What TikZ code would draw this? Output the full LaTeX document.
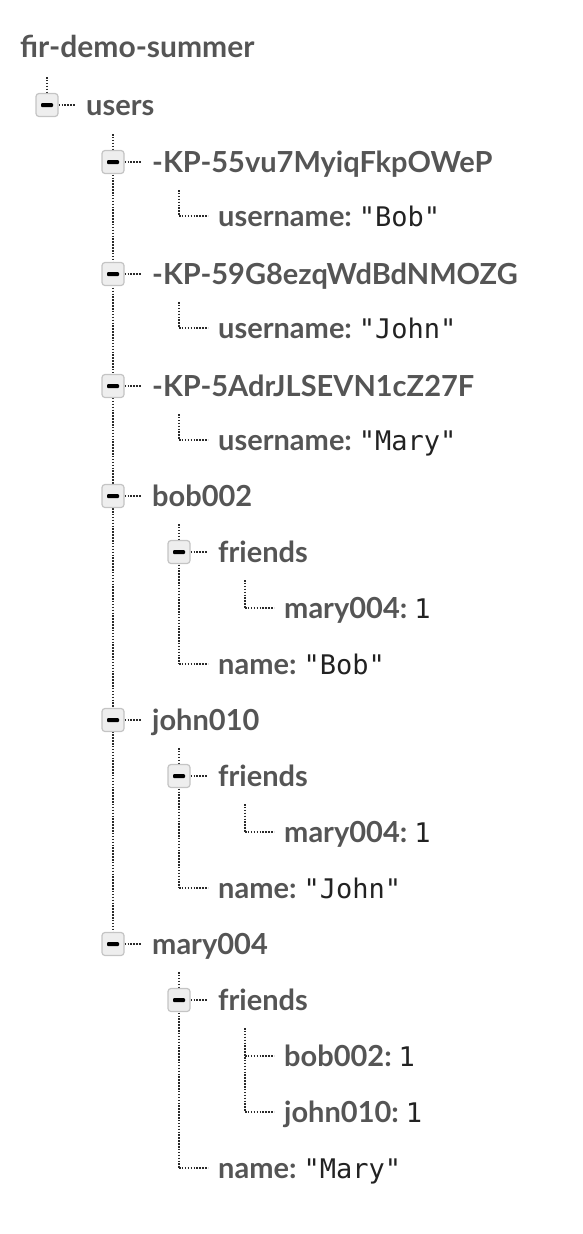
\documentclass[tikz,border=0pt]{standalone}
\usepackage{fontspec}
\usetikzlibrary{backgrounds}
\newfontfamily\keyfont{Lato}
\newfontfamily\valfont{DejaVu Sans Mono}
\definecolor{keygray}{HTML}{555555}
\definecolor{valblack}{HTML}{222222}
\definecolor{dotgray}{HTML}{2A2A2A}
\definecolor{boxfill}{HTML}{EEEEEE}
\definecolor{boxline}{HTML}{C4C4C4}

\tikzset{
  dots/.style={draw=dotgray, line width=1.5pt, dash pattern=on 1.5pt off 1.4pt},
  toggle/.style={draw=boxline, fill=boxfill, rounded corners=3pt, line width=1.2pt,
    minimum width=22pt, minimum height=23pt, inner sep=0pt,
    path picture={\fill[black, rounded corners=1pt]
      ([xshift=-6pt,yshift=-2pt]path picture bounding box.center) rectangle
      ([xshift=6pt,yshift=2pt]path picture bounding box.center);}},
  key/.style={anchor=base west, inner sep=0pt, text=keygray,
    font=\keyfont\bfseries\fontsize{29}{32}\selectfont},
}
\newcommand{\val}[1]{{\valfont\mdseries\color{valblack}\fontsize{27}{30}\selectfont #1}}
% box, label and the short dotted stub
\newcommand{\branch}[4]{%
  \node[toggle] (#1) at (#2,#3) {};
  \node[key] (#1-t) at ({#2+39},{#3+10}) {#4};
  \draw[dots, shorten >=11pt] (#1.east) -- (#1.east -| #1-t.west);
}
% leaf: key and value
\newcommand{\leaf}[5]{%
  \coordinate (#1-c) at (#2,#3);
  \node[key] (#1) at ({#2+39},{#3+10}) {#4:\hspace{7pt}\val{#5}};
  \draw[dots, shorten >=10pt] (#1-c) -- (#1-c -| #1.west);
}

\begin{document}
\begin{tikzpicture}[x=1pt, y=-1pt]
  \useasboundingbox (0,0) rectangle (582,1234);

  % root
  \node[key, font=\keyfont\bfseries\fontsize{30}{32}\selectfont] (root) at (20,57) {fir-demo-summer};
  \coordinate (root-top) at (47,77);
  \branch{users}{47}{105}{users}
  \coordinate (users-top) at (113,134);

  % push keys
  \branch{kp55}{113}{162}{-KP-55vu7MyiqFkpOWeP}
  \coordinate (kp55-top) at (179,190);
  \leaf{kp55-u}{179}{216}{username}{"Bob"}
  \branch{kp59}{113}{274}{-KP-59G8ezqWdBdNMOZG}
  \coordinate (kp59-top) at (179,302);
  \leaf{kp59-u}{179}{328}{username}{"John"}
  \branch{kp5a}{113}{386}{-KP-5AdrJLSEVN1cZ27F}
  \coordinate (kp5a-top) at (179,414);
  \leaf{kp5a-u}{179}{440}{username}{"Mary"}

  % bob002
  \branch{bob}{113}{496}{bob002}
  \coordinate (bob-top) at (179,524);
  \branch{bob-f}{179}{552}{friends}
  \coordinate (bob-f-top) at (245,580);
  \leaf{bob-f-m}{245}{608}{mary004}{1}
  \leaf{bob-n}{179}{664}{name}{"Bob"}

  % john010
  \branch{john}{113}{720}{john010}
  \coordinate (john-top) at (179,748);
  \branch{john-f}{179}{776}{friends}
  \coordinate (john-f-top) at (245,804);
  \leaf{john-f-m}{245}{832}{mary004}{1}
  \leaf{john-n}{179}{888}{name}{"John"}

  % mary004
  \branch{mary}{113}{944}{mary004}
  \coordinate (mary-top) at (179,972);
  \branch{mary-f}{179}{1000}{friends}
  \coordinate (mary-f-top) at (245,1028);
  \leaf{mary-f-b}{245}{1056}{bob002}{1}
  \leaf{mary-f-j}{245}{1112}{john010}{1}
  \leaf{mary-n}{179}{1168}{name}{"Mary"}

  % vertical guides behind the boxes
  \begin{scope}[on background layer]
    \draw[dots] (root-top) -- (users);
    \draw[dots] (users-top) -- (mary);
    \draw[dots] (kp55-top) -- (kp55-u-c);
    \draw[dots] (kp59-top) -- (kp59-u-c);
    \draw[dots] (kp5a-top) -- (kp5a-u-c);
    \draw[dots] (bob-top) -- (bob-n-c);
    \draw[dots] (bob-f-top) -- (bob-f-m-c);
    \draw[dots] (john-top) -- (john-n-c);
    \draw[dots] (john-f-top) -- (john-f-m-c);
    \draw[dots] (mary-top) -- (mary-n-c);
    \draw[dots] (mary-f-top) -- (mary-f-j-c);
  \end{scope}
\end{tikzpicture}
\end{document}
